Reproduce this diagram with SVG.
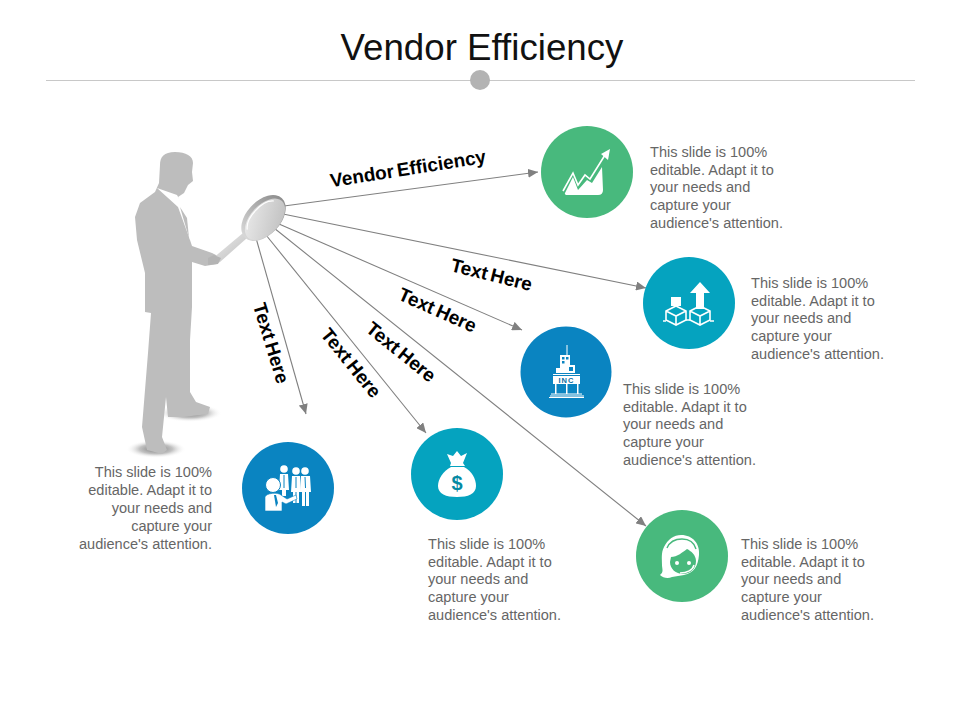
<svg xmlns="http://www.w3.org/2000/svg" width="960" height="720" viewBox="0 0 960 720">
<style>
text{font-family:"Liberation Sans",Arial,sans-serif}
.title{font-size:36.700px;fill:#111;text-anchor:middle}
.lab{font-size:19px;font-weight:bold;fill:#000;text-anchor:middle;word-spacing:-2px}
.body{font-size:14.550px;fill:#666}
.end{text-anchor:end}
.conn{stroke:#808080;stroke-width:1.100;fill:none;marker-end:url(#arr)}
.w{fill:#fff}
.ws{stroke:#fff;fill:none}
</style>
<defs>
<marker id="arr" markerUnits="userSpaceOnUse" markerWidth="11" markerHeight="9" refX="10" refY="4.500" orient="auto"><path d="M0 0L10 4.500L0 9z" fill="#808080"/></marker>
<linearGradient id="rim" x1="0" y1="0" x2="1" y2="0"><stop offset="0" stop-color="#d8d8d8"/><stop offset="1" stop-color="#8e8e8e"/></linearGradient>
<linearGradient id="hg" x1="0" y1="0" x2="1" y2="1"><stop offset="0" stop-color="#ededed"/><stop offset="1" stop-color="#bcbcbc"/></linearGradient>
<radialGradient id="sh"><stop offset="0" stop-color="#6e6e6e"/><stop offset=".55" stop-color="#a8a8a8" stop-opacity=".7"/><stop offset="1" stop-color="#fff" stop-opacity="0"/></radialGradient>
</defs>

<g id="title">
<text class="title" x="482" y="60">Vendor Efficiency</text>
<line x1="46" y1="80.500" x2="915" y2="80.500" stroke="#c8c8c8" stroke-width="1"/>
<circle cx="480" cy="80" r="10" fill="#b3b3b3"/>
</g>

<g id="connectors">
<line class="conn" x1="284" y1="206" x2="538" y2="172"/>
<line class="conn" x1="283" y1="214" x2="646" y2="288"/>
<line class="conn" x1="279" y1="224" x2="522" y2="330"/>
<line class="conn" x1="274" y1="228" x2="646" y2="526"/>
<line class="conn" x1="266" y1="235" x2="426" y2="433"/>
<line class="conn" x1="256" y1="238" x2="306" y2="414"/>
</g>

<g id="person">
<ellipse cx="156" cy="449" rx="30" ry="9" fill="url(#sh)"/>
<ellipse cx="190" cy="413" rx="32" ry="9" fill="url(#sh)"/>
<path fill="#bdbdbd" d="M160 165C160 157 164 152 175 152C186 152 193 156 193 163L192 172L193 181L188 185L184 193L178 197L190 240L192 246L212 253L220 257L217 264L205 266L192 262L192 307L190 340L190 392L196 402L210 407L208 414L183 417L168 417L166 397L162 437L167 450L162 454L147 450L142 427L148 353L151 313L145 312L145 273L137 240L135 217L140 203L155 192L159 183Z"/>
<path d="M157 188L177 195L188 215L190 240L178 207Z" fill="#fff"/>
<path d="M180 207L187 218L189 238Z" fill="#bdbdbd"/>
<path d="M212 259L243 233L247 238L220 262C216 265 210 262 212 259Z" fill="url(#hg)"/>
<path d="M208 258L214 255L221 258L218 264L208 265Z" fill="#b4b4b4"/>
<g transform="rotate(-47 263.500 218)">
<ellipse cx="263.500" cy="218" rx="27" ry="17" fill="url(#rim)"/>
<ellipse cx="263.500" cy="220" rx="25" ry="14.500" fill="url(#hg)"/>
<path d="M244 214A21 11 0 0 1 283 214" stroke="#fff" stroke-width="1.200" fill="none"/>
</g>
</g>

<g id="label-main"><text class="lab" transform="translate(409 175) rotate(-9)">Vendor Efficiency</text></g>
<g id="label-2"><text class="lab" transform="translate(490 281) rotate(14)">Text Here</text></g>
<g id="label-3"><text class="lab" transform="translate(435 316) rotate(24)">Text Here</text></g>
<g id="label-4"><text class="lab" transform="translate(397 357) rotate(39)">Text Here</text></g>
<g id="label-5"><text class="lab" transform="translate(346 367) rotate(51)">Text Here</text></g>
<g id="label-6"><text class="lab" transform="translate(265 345) rotate(73)">Text Here</text></g>

<g id="node-growth">
<circle cx="587" cy="172" r="46" fill="#48b97d"/>
<path class="w" d="M565 193L573 177L578 190L587 180L592 183L602 167L603 190Q603 195 598 195L568 195Q564 195 565 193Z"/>
<path class="ws" stroke-width="1.600" d="M563 191L573 173L578 185L585 175L590 179L605 155"/>
<path class="w" d="M601 154L610 149L608 160Z"/>
<text class="body"><tspan x="650" y="157">This slide is 100%</tspan><tspan x="650" y="175">editable. Adapt it to</tspan><tspan x="650" y="192">your needs and</tspan><tspan x="650" y="210">capture your</tspan><tspan x="650" y="228">audience's attention.</tspan></text>
</g>

<g id="node-boxes">
<circle cx="689" cy="303" r="46" fill="#05a3bf"/>
<path class="w" d="M700 282L710 293H704V309H696V293H690Z"/>
<rect class="w" x="671" y="297" width="10" height="9"/>
<g class="ws" stroke-width="1.600"><path d="M676 306L686 311V320L676 325L666 320V311ZM666 311L676 316L686 311M676 316V325"/><path d="M700 306L710 311V320L700 325L690 320V311ZM690 311L700 316L710 311M700 316V325"/><path d="M663 321H666M686 320H690M710 321H714"/></g>
<text class="body"><tspan x="751" y="288">This slide is 100%</tspan><tspan x="751" y="306">editable. Adapt it to</tspan><tspan x="751" y="323">your needs and</tspan><tspan x="751" y="341">capture your</tspan><tspan x="751" y="359">audience's attention.</tspan></text>
</g>

<g id="node-building">
<circle cx="566" cy="372" r="45.500" fill="#0a84c1"/>
<rect class="w" x="566.500" y="345" width="1" height="10"/>
<path class="w" d="M560 355H570V365H575V373H556V368H560Z"/>
<g fill="#0a84c1"><rect x="562" y="357" width="2.500" height="2.500"/><rect x="566" y="357" width="2.500" height="2.500"/><rect x="562" y="361" width="2.500" height="2.500"/><rect x="569" y="367" width="4" height="4"/></g>
<rect class="w" x="553" y="374" width="27" height="1"/>
<rect class="w" x="553" y="376" width="27" height="8"/>
<rect class="w" x="555" y="384" width="1.500" height="10"/><rect class="w" x="566" y="384" width="1.500" height="10"/><rect class="w" x="577" y="384" width="1.500" height="10"/>
<rect class="w" x="551" y="393.500" width="31" height="1"/><rect class="w" x="550" y="395.500" width="34" height="1"/><rect class="w" x="549" y="397" width="35" height="1"/>
<text x="566.500" y="383" font-size="7.500" font-weight="bold" fill="#0a6fa3" text-anchor="middle" letter-spacing="1">INC</text>
<text class="body"><tspan x="623" y="394">This slide is 100%</tspan><tspan x="623" y="412">editable. Adapt it to</tspan><tspan x="623" y="429">your needs and</tspan><tspan x="623" y="447">capture your</tspan><tspan x="623" y="465">audience's attention.</tspan></text>
</g>

<g id="node-money">
<circle cx="457" cy="474" r="46" fill="#05a3bf"/>
<path class="w" d="M447 454L453 456L457 451L461 456L467 453L463 463L465 466H450L451 463Z"/>
<path class="w" d="M451 467H464C472 471 476 479 476 486C476 494 468 497 457 497C446 497 438 494 438 486C438 479 443 471 451 467Z"/>
<text x="457" y="490" font-size="20" font-weight="bold" fill="#058aa3" text-anchor="middle">$</text>
<text class="body"><tspan x="428" y="549">This slide is 100%</tspan><tspan x="428" y="567">editable. Adapt it to</tspan><tspan x="428" y="584">your needs and</tspan><tspan x="428" y="602">capture your</tspan><tspan x="428" y="620">audience's attention.</tspan></text>
</g>

<g id="node-people">
<circle cx="288" cy="488" r="46" fill="#0a84c1"/>
<circle class="w" cx="284" cy="469" r="3.800"/><path class="w" d="M280 474H288L289 490H286V496H282V490H279Z"/>
<circle class="w" cx="296" cy="471" r="3.800"/><path class="w" d="M292 476H300L301 492H299V503H296.500V492H295.500V503H293V492H291Z"/>
<circle class="w" cx="305" cy="471" r="3.800"/><path class="w" d="M301 476H310L311 492H309V506H306V492H305V506H302V492H300Z"/>
<path d="M305 477L305.500 488" stroke="#0a84c1" stroke-width="1"/><path d="M296 477V488" stroke="#0a84c1" stroke-width="1"/><path d="M284 475V488" stroke="#0a84c1" stroke-width="1"/>
<circle class="w" cx="273" cy="485" r="7.500" stroke="#0a84c1" stroke-width="1"/>
<path class="w" d="M265 497C266 493 278 492 281 495L287 499L296 495L297 499L286 504L282 502V511H265Z" stroke="#0a84c1" stroke-width=".6"/>
<path d="M274 495L276 507L278 503L276 495Z" fill="#0a84c1"/>
<text class="body end"><tspan x="212" y="477">This slide is 100%</tspan><tspan x="212" y="495">editable. Adapt it to</tspan><tspan x="212" y="513">your needs and</tspan><tspan x="212" y="531">capture your</tspan><tspan x="212" y="549">audience's attention.</tspan></text>
</g>

<g id="node-support">
<circle cx="682" cy="556" r="46" fill="#48b97d"/>
<path class="w" d="M681 535C693 535 700 544 699 555C698 566 694 573 684 575L672 577C668 579 663 578 660 575C664 572 662 569 662 565C662 558 661 553 664 547C668 539 674 535 681 535Z"/>
<path d="M667 548C670 541 676 539 682 539C689 539 694 542 696 549" fill="none" stroke="#48b97d" stroke-width="1.400"/>
<path d="M671 557C677 557 683 552 687 549C691 551 696 555 696 561C696 569 690 574 683 574C676 574 670 569 670 562Z" fill="#48b97d"/>
<circle class="w" cx="677" cy="563" r="2"/><circle class="w" cx="689" cy="563" r="2"/>
<path d="M694 565C693 570 687 573 680 573" fill="none" stroke="#fff" stroke-width="1.500"/>
<text class="body"><tspan x="741" y="549">This slide is 100%</tspan><tspan x="741" y="567">editable. Adapt it to</tspan><tspan x="741" y="584">your needs and</tspan><tspan x="741" y="602">capture your</tspan><tspan x="741" y="620">audience's attention.</tspan></text>
</g>
</svg>
